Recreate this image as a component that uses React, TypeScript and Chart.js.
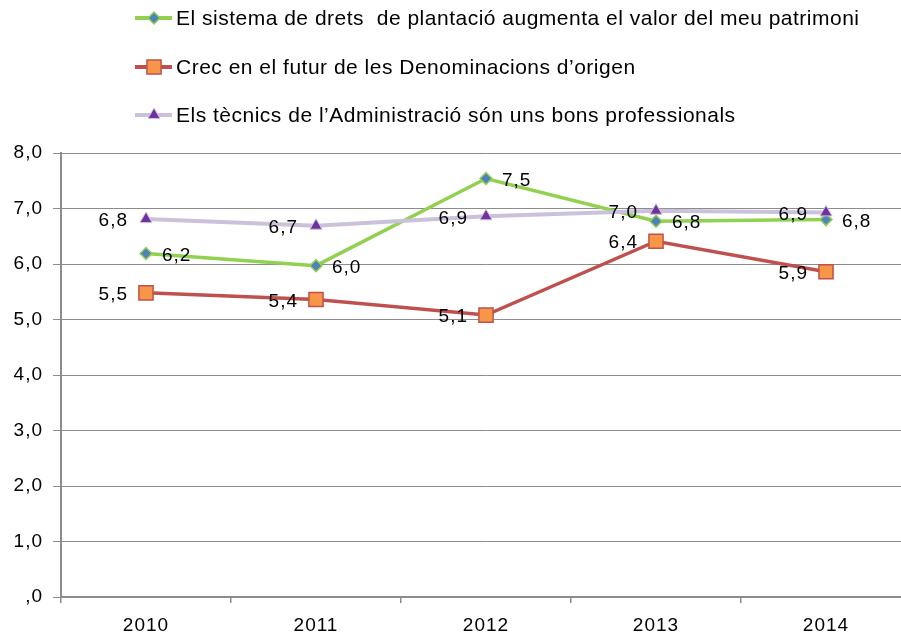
import { useEffect, useRef } from "react";
import { Chart, registerables } from "chart.js";

Chart.register(...registerables);

const years = ["2010", "2011", "2012", "2013", "2014"];
const seriesNames = [
  "El sistema de drets  de plantació augmenta el valor del meu patrimoni",
  "Crec en el futur de les Denominacions d\u2019origen",
  "Els tècnics de l\u2019Administració són uns bons professionals",
];
const drets = [6.19, 5.97, 7.54, 6.77, 6.8];
const denominacions = [5.48, 5.36, 5.08, 6.41, 5.86];
const tecnics = [6.81, 6.69, 6.86, 6.96, 6.93];
const yMin = 0;
const yMax = 8;
const yStep = 1;

const FONT = '"Liberation Sans", Arial, sans-serif';
const GRID = "#8c8c8c";
const SPACING = "1px";

const fmt = (v: number) => {
  const s = v.toFixed(1).replace(".", ",");
  return s.startsWith("0,") ? s.slice(1) : s;
};

const labelSide = ["right", "left", "left"];

const spacingPlugin = {
  id: "spacing",
  beforeUpdate(chart: any) {
    chart.ctx.letterSpacing = SPACING;
  },
  beforeLayout(chart: any) {
    chart.ctx.letterSpacing = SPACING;
  },
  beforeDraw(chart: any) {
    chart.ctx.letterSpacing = SPACING;
  },
};

const dataLabelPlugin = {
  id: "dataLabels",
  afterDatasetsDraw(chart: any) {
    const ctx = chart.ctx;
    ctx.save();
    ctx.letterSpacing = SPACING;
    ctx.font = `19px ${FONT}`;
    ctx.fillStyle = "#000";
    ctx.textBaseline = "middle";
    chart.data.datasets.forEach((ds: any, i: number) => {
      const meta = chart.getDatasetMeta(i);
      meta.data.forEach((pt: any, j: number) => {
        const txt = fmt(ds.data[j]);
        if (labelSide[i] === "right") {
          ctx.textAlign = "left";
          ctx.fillText(txt, pt.x + 16, pt.y + 2);
        } else {
          ctx.textAlign = "right";
          ctx.fillText(txt, pt.x - 18, pt.y + 2);
        }
      });
    });
    ctx.restore();
  },
};

const legendPlugin = {
  id: "customLegend",
  afterDraw(chart: any) {
    const ctx = chart.ctx;
    const rows = [18, 67, 115];
    ctx.save();
    chart.data.datasets.forEach((ds: any, i: number) => {
      const y = rows[i];
      ctx.strokeStyle = ds.borderColor;
      ctx.lineWidth = 4;
      ctx.beginPath();
      ctx.moveTo(135, y);
      ctx.lineTo(172, y);
      ctx.stroke();
      ctx.fillStyle = ds.pointBackgroundColor;
      ctx.strokeStyle = ds.pointBorderColor;
      ctx.lineWidth = ds.pointBorderWidth;
      const cx = 154;
      const r = ds.pointRadius;
      ctx.beginPath();
      if (ds.pointStyle === "rectRot") {
        ctx.moveTo(cx, y - r);
        ctx.lineTo(cx + r, y);
        ctx.lineTo(cx, y + r);
        ctx.lineTo(cx - r, y);
        ctx.closePath();
      } else if (ds.pointStyle === "rect") {
        const s = r * Math.SQRT1_2;
        ctx.rect(cx - s, y - s, 2 * s, 2 * s);
      } else {
        ctx.moveTo(cx, y - r);
        ctx.lineTo(cx + r * 0.866, y + r / 2);
        ctx.lineTo(cx - r * 0.866, y + r / 2);
        ctx.closePath();
      }
      ctx.fill();
      ctx.stroke();
      ctx.fillStyle = "#000";
      ctx.font = `21px ${FONT}`;
      ctx.letterSpacing = "0.5px";
      ctx.textAlign = "left";
      ctx.textBaseline = "middle";
      ctx.fillText(seriesNames[i], 176, y + 1);
      ctx.letterSpacing = SPACING;
    });
    ctx.restore();
  },
};

export default function App() {
  const ref = useRef<HTMLCanvasElement | null>(null);
  useEffect(() => {
    if (!ref.current) return;
    const chart = new Chart(ref.current, {
      type: "line",
      data: {
        labels: years,
        datasets: [
          {
            label: seriesNames[0],
            data: drets,
            borderColor: "#92D050",
            backgroundColor: "#92D050",
            borderWidth: 3.5,
            pointStyle: "rectRot",
            pointRadius: 6,
            pointBackgroundColor: "#4F81BD",
            pointBorderColor: "#92D050",
            pointBorderWidth: 1.5,
            tension: 0,
            order: 3,
          },
          {
            label: seriesNames[1],
            data: denominacions,
            borderColor: "#C0504D",
            backgroundColor: "#C0504D",
            borderWidth: 3.5,
            pointStyle: "rect",
            pointRadius: 10,
            pointBackgroundColor: "#F79646",
            pointBorderColor: "#C0504D",
            pointBorderWidth: 1.5,
            tension: 0,
            order: 2,
          },
          {
            label: seriesNames[2],
            data: tecnics,
            borderColor: "#CCC1DA",
            backgroundColor: "#CCC1DA",
            borderWidth: 4,
            pointStyle: "triangle",
            pointRadius: 7,
            pointBackgroundColor: "#7030A0",
            pointBorderColor: "#CCC1DA",
            pointBorderWidth: 1,
            tension: 0,
            order: 1,
          },
        ],
      },
      options: {
        animation: false,
        responsive: false,
        maintainAspectRatio: false,
        devicePixelRatio: 1,
        layout: {
          autoPadding: false,
          padding: { top: 153, right: 2, left: 0, bottom: 0 },
        },
        plugins: {
          legend: { display: false },
          tooltip: { enabled: false },
          title: { display: false },
        },
        scales: {
          x: {
            offset: true,
            afterFit: (s: any) => {
              s.height = 40;
            },
            grid: {
              offset: true,
              drawOnChartArea: false,
              drawTicks: true,
              tickLength: 6,
              color: GRID,
              lineWidth: 1.5,
            },
            border: { color: GRID, width: 2 },
            ticks: {
              color: "#000",
              font: { family: FONT, size: 19 },
              padding: 11,
              maxRotation: 0,
            },
          },
          y: {
            min: yMin,
            max: yMax,
            afterFit: (s: any) => {
              s.width = 61;
            },
            grid: {
              color: GRID,
              lineWidth: 1,
              tickLength: 8,
              drawTicks: true,
            },
            border: { color: GRID, width: 2 },
            ticks: {
              stepSize: yStep,
              color: "#000",
              font: { family: FONT, size: 19 },
              padding: 10,
              callback: (v: any) => fmt(Number(v)),
            },
          },
        },
      },
      plugins: [spacingPlugin, dataLabelPlugin, legendPlugin],
    });
    return () => chart.destroy();
  }, []);
  return (
    <div
      style={{
        position: "absolute",
        left: 0,
        top: 0,
        width: 901,
        height: 637,
        overflow: "hidden",
        background: "#fff",
      }}
    >
      <canvas ref={ref} width={913} height={637} style={{ display: "block" }} />
    </div>
  );
}
